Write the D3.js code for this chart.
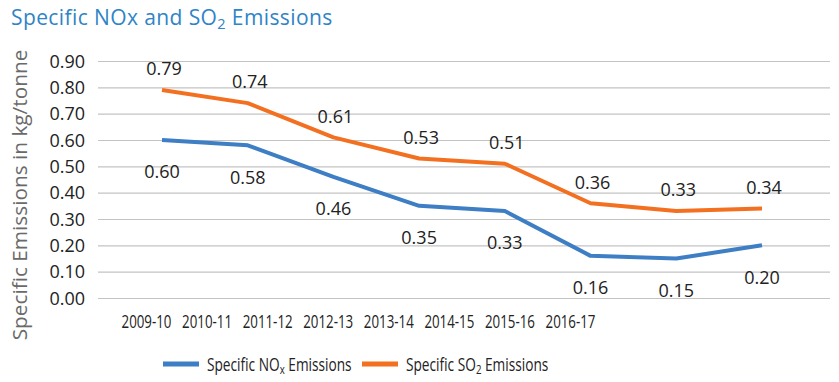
<!DOCTYPE html>
<html><head><meta charset="utf-8">
<script src="https://cdn.jsdelivr.net/npm/d3@7"></script>
<style>
body{margin:0;background:#fff;}
svg{display:block;}
</style></head>
<body><svg id="c" width="839" height="382"></svg>
<script>
const categories = ["2009-10","2010-11","2011-12","2012-13","2013-14","2014-15","2015-16","2016-17"];
const noxValues = [0.60,0.58,0.46,0.35,0.33,0.16,0.15,0.20];
const so2Values = [0.79,0.74,0.61,0.53,0.51,0.36,0.33,0.34];
const yTicks = [0,0.1,0.2,0.3,0.4,0.5,0.6,0.7,0.8,0.9];

const BLUE = "#3D7EC4", ORANGE = "#F37021", TITLE = "#2E84C6";
const svg = d3.select("#c");

const y = d3.scaleLinear().domain([0,0.9]).range([298,61]);
const x = d3.scalePoint().domain(categories).range([162,762]);
const xLab = d3.scalePoint().domain(categories).range([146,570]);

// title
const t = svg.append("text").attr("x",11).attr("y",25)
  .attr("font-family","'Open Sans', sans-serif").attr("font-size",21).attr("letter-spacing",0.4).attr("fill",TITLE);
t.append("tspan").text("Specific NOx and SO");
t.append("tspan").attr("font-size",14.5).attr("dy",4).text("2");
t.append("tspan").attr("dy",-4).text(" Emissions");

// y axis with gridlines
const yAxis = svg.append("g").attr("transform","translate(98,0)")
  .call(d3.axisRight(y).tickValues(yTicks).tickSize(732).tickFormat(d3.format(".2f")));
yAxis.select(".domain").remove();
yAxis.selectAll(".tick line").attr("stroke","#C3C3C3").attr("stroke-width",1.2);
yAxis.selectAll(".tick text").attr("x",-13).attr("text-anchor","end")
  .attr("font-family","'Open Sans', sans-serif").attr("font-size",18).attr("fill","#222").attr("dy","0.35em");

// x axis labels (condensed)
const xAxis = svg.append("g").attr("transform","translate(0,315)")
  .call(d3.axisBottom(xLab).tickSize(0).tickPadding(0));
xAxis.select(".domain").remove();
xAxis.selectAll(".tick text").attr("font-family","'Open Sans', sans-serif")
  .attr("font-size",18.5).attr("fill","#222").attr("dy","0.71em")
  .attr("transform","scale(0.72,1)");

// y title
svg.append("text").attr("transform","translate(27,195) rotate(-90)").attr("text-anchor","middle")
  .attr("font-family","'Open Sans', sans-serif").attr("font-size",20.8).attr("fill","#6a6a6a")
  .text("Specific Emissions in kg/tonne");

const line = d3.line().x((d,i)=>x(categories[i])).y(d=>y(d));
svg.append("path").datum(noxValues).attr("d",line).attr("fill","none").attr("stroke",BLUE)
  .attr("stroke-width",4).attr("stroke-linejoin","round");
svg.append("path").datum(so2Values).attr("d",line).attr("fill","none").attr("stroke",ORANGE)
  .attr("stroke-width",4).attr("stroke-linejoin","round");

// data labels
const lblFont = "'Open Sans', sans-serif";
svg.append("g").selectAll("text").data(so2Values).join("text")
  .attr("x",(d,i)=>x(categories[i])+2).attr("y",d=>y(d)-21).attr("dy","0.35em")
  .attr("text-anchor","middle").attr("font-family",lblFont).attr("font-size",18).attr("fill","#222")
  .text(d=>d3.format(".2f")(d));
svg.append("g").selectAll("text").data(noxValues).join("text")
  .attr("x",(d,i)=>x(categories[i])).attr("y",d=>y(d)+32).attr("dy","0.35em")
  .attr("text-anchor","middle").attr("font-family",lblFont).attr("font-size",18).attr("fill","#222")
  .text(d=>d3.format(".2f")(d));

// legend
const lg = svg.append("g").attr("font-family","'Open Sans', sans-serif")
  .attr("font-size",18.5).attr("fill","#222");
lg.append("line").attr("x1",163).attr("x2",199).attr("y1",364).attr("y2",364).attr("stroke",BLUE).attr("stroke-width",5);
const l1 = lg.append("text").attr("transform","translate(207,370.5) scale(0.74,1)");
l1.append("tspan").text("Specific NO");
l1.append("tspan").attr("font-size",13).attr("dy",3).text("x");
l1.append("tspan").attr("dy",-3).text(" Emissions");
lg.append("line").attr("x1",362).attr("x2",398).attr("y1",364).attr("y2",364).attr("stroke",ORANGE).attr("stroke-width",5);
const l2 = lg.append("text").attr("transform","translate(406,370.5) scale(0.74,1)");
l2.append("tspan").text("Specific SO");
l2.append("tspan").attr("font-size",13).attr("dy",3).text("2");
l2.append("tspan").attr("dy",-3).text(" Emissions");
</script></body></html>
